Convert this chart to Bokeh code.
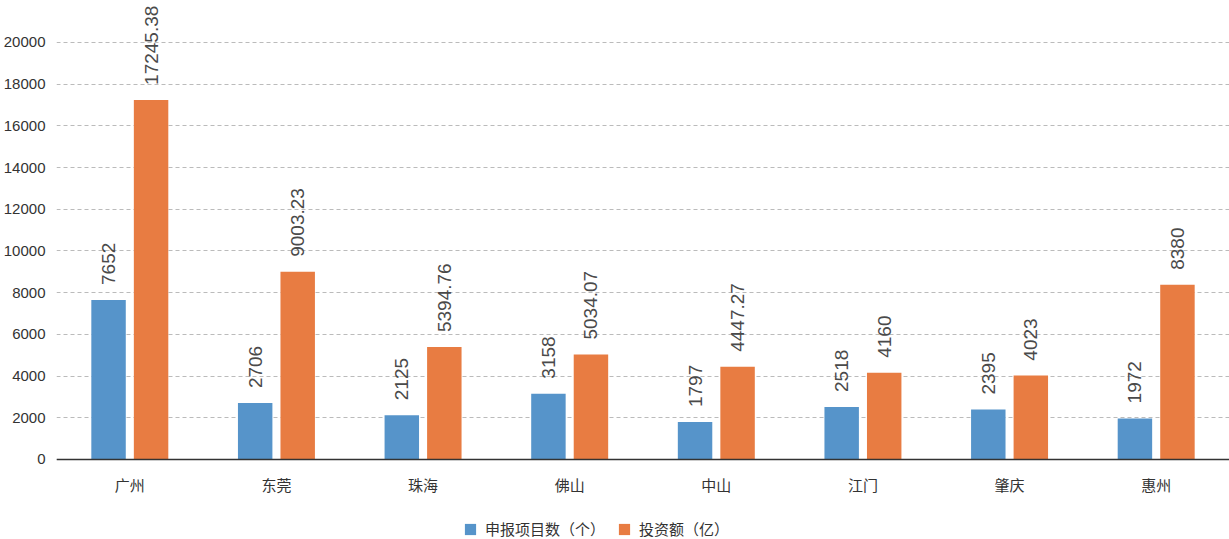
import math
from bokeh.plotting import figure
from bokeh.models import (ColumnDataSource, FactorRange, Range1d, FixedTicker, LabelSet,
                          Legend, LegendItem, Span)
from bokeh.core.properties import value
from bokeh.transform import dodge
from bokeh.embed import file_html
from bokeh.resources import INLINE

cities = ["广州", "东莞", "珠海", "佛山", "中山", "江门", "肇庆", "惠州"]
projects = [7652, 2706, 2125, 3158, 1797, 2518, 2395, 1972]
investment = [17245.38, 9003.23, 5394.76, 5034.07, 4447.27, 4160, 4023, 8380]
project_labels = ["7652", "2706", "2125", "3158", "1797", "2518", "2395", "1972"]
invest_labels = ["17245.38", "9003.23", "5394.76", "5034.07", "4447.27", "4160", "4023", "8380"]
y_ticks = [0, 2000, 4000, 6000, 8000, 10000, 12000, 14000, 16000, 18000, 20000]
series_names = ["申报项目数（个）", "投资额（亿）"]

BLUE = "#5694CA"
ORANGE = "#E87C42"
NUM_FONT = "Liberation Sans"

src = ColumnDataSource(dict(city=cities, proj=projects, inv=investment,
                            plab=project_labels, ilab=invest_labels,
                            base=[0] * len(cities)))

p = figure(width=1229, height=539, x_range=FactorRange(factors=cities, range_padding=0),
           y_range=Range1d(-3837, 22014), output_backend="svg", toolbar_location=None,
           min_border_left=56, min_border_right=0, min_border_top=0, min_border_bottom=0)
p.outline_line_color = None
p.background_fill_color = "white"

r1 = p.vbar(x=dodge("city", -0.145, range=p.x_range), top="proj", width=0.235,
            source=src, color=BLUE, line_color=None)
r2 = p.vbar(x=dodge("city", 0.145, range=p.x_range), top="inv", width=0.235,
            source=src, color=ORANGE, line_color=None)

for col, lab, off in (("proj", "plab", -0.145), ("inv", "ilab", 0.145)):
    ls = LabelSet(x=dodge("city", off, range=p.x_range), y=col, text=lab, source=src,
                  angle=math.pi / 2, text_align="left", text_baseline="middle",
                  y_offset=15, text_font=value(NUM_FONT), text_font_size=value("19px"),
                  text_color="#4a4a4a")
    p.add_layout(ls)

# category labels under the baseline
cat_labels = LabelSet(x="city", y="base", text="city", source=src, y_offset=-25,
                      text_align="center", text_baseline="middle",
                      text_font=value("Noto Sans CJK SC"), text_font_size=value("15px"),
                      text_color="#333333")
p.add_layout(cat_labels)

# baseline
p.add_layout(Span(location=0, dimension="width", line_color="#333333", line_width=1.5))

# axes
p.xaxis.visible = False
p.yaxis.ticker = FixedTicker(ticks=y_ticks)
p.yaxis.axis_line_color = None
p.yaxis.major_tick_line_color = None
p.yaxis.minor_tick_line_color = None
p.yaxis.major_tick_out = 0
p.yaxis.major_tick_in = 0
p.yaxis.minor_tick_out = 0
p.yaxis.major_label_standoff = 11
p.yaxis.major_label_text_font = NUM_FONT
p.yaxis.major_label_text_font_size = "15px"
p.yaxis.major_label_text_color = "#333333"

p.xgrid.grid_line_color = None
p.ygrid.grid_line_color = "#BBBBBB"
p.ygrid.grid_line_dash = "4 3"
p.ygrid.grid_line_width = 1

legend = Legend(items=[LegendItem(label=series_names[0], renderers=[r1]),
                       LegendItem(label=series_names[1], renderers=[r2])],
                orientation="horizontal", location=(407, 0),
                label_text_font="Noto Sans CJK SC", label_text_font_size="15px",
                label_text_color="#333333", glyph_width=14, glyph_height=14,
                spacing=12, padding=2, margin=0, border_line_color=None,
                background_fill_alpha=0, label_standoff=8)
p.add_layout(legend, "center")

open("out.html", "w").write(file_html(p, INLINE))
